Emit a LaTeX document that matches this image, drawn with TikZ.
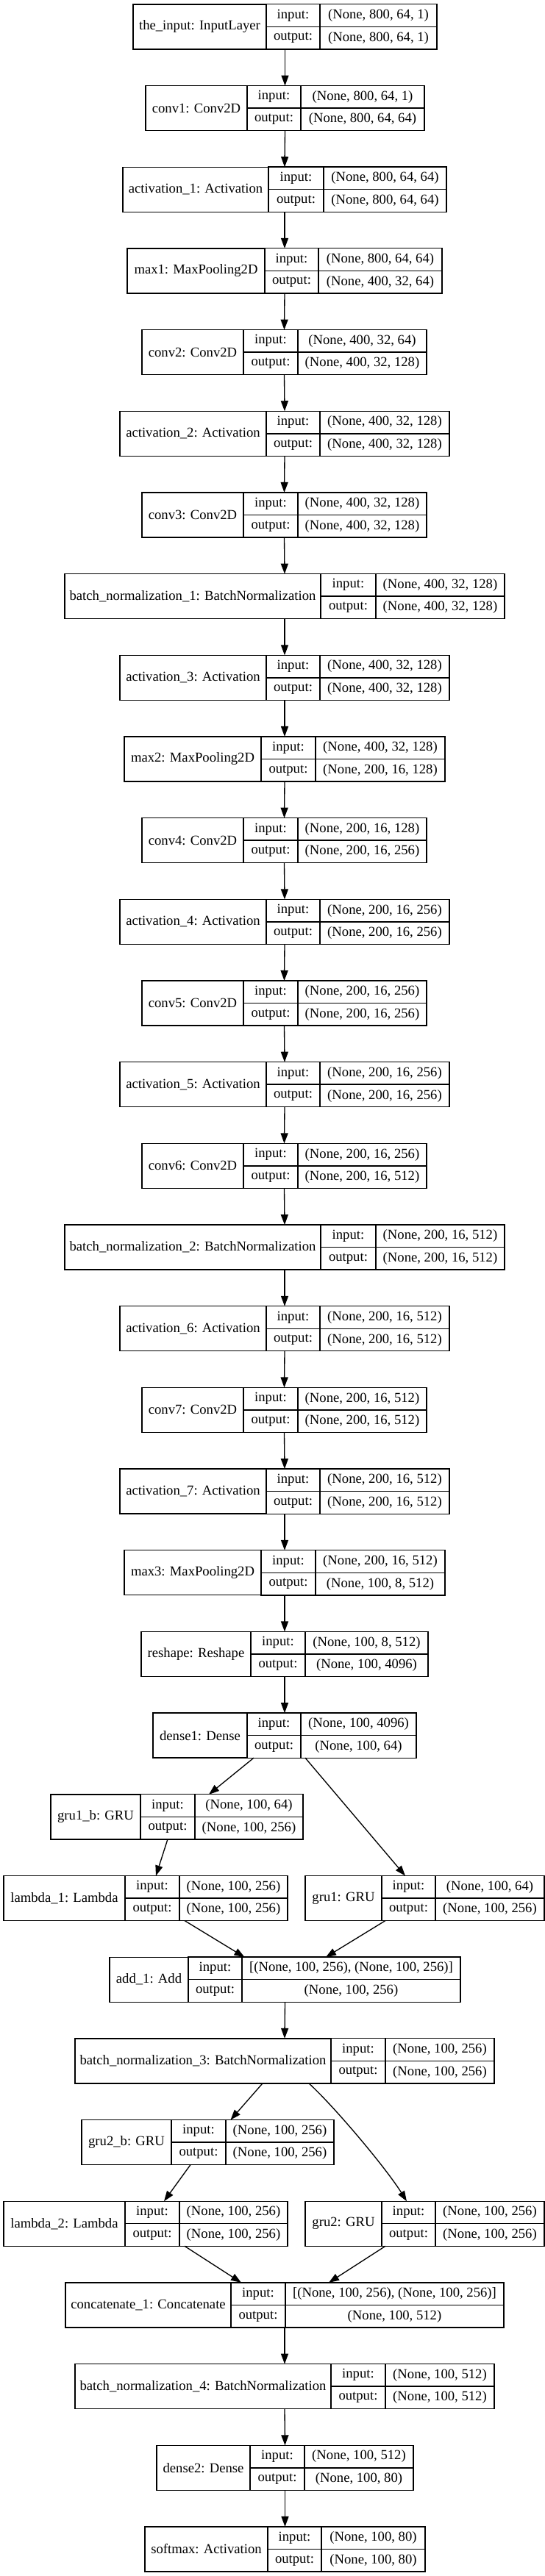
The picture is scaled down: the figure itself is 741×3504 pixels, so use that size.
\documentclass[tikz,border=0pt]{standalone}
\usepackage{fontspec}
\setmainfont{Liberation Serif}
\usetikzlibrary{arrows.meta,calc}

% one layer record: id, row, left, split1, split2, right, name, input, output
\newcommand{\layer}[9]{%
  \node[area, minimum width={0.75pt*(#6-#3)}] (#1) at ({(#3+#6)/2},{5.7+110.68*#2+30.65}) {};
  \node[cellbox, minimum width={0.75pt*(#4-#3)}, minimum height=45.75pt] (#1l) at ({(#3+#4)/2},{5.7+110.68*#2+30.65}) {#7};
  \node[cellbox, minimum width={0.75pt*(#5-#4)}] (#1i) at ({(#4+#5)/2},{5.7+110.68*#2+15.33}) {input:};
  \node[cellbox, minimum width={0.75pt*(#5-#4)}] (#1o) at ({(#4+#5)/2},{5.7+110.68*#2+45.98}) {output:};
  \node[cellbox, minimum width={0.75pt*(#6-#5)}] (#1si) at ({(#5+#6)/2},{5.7+110.68*#2+15.33}) {#8};
  \node[cellbox, minimum width={0.75pt*(#6-#5)}] (#1so) at ({(#5+#6)/2},{5.7+110.68*#2+45.98}) {#9};
}

\begin{document}
\begin{tikzpicture}[x=0.75pt,y=-0.75pt,
  cellbox/.style={draw, line width=1pt, inner sep=0pt, minimum height=22.875pt, font=\fontsize{14pt}{16pt}\selectfont},
  area/.style={inner sep=0pt, outer sep=0pt, minimum height=45.75pt},
  edge/.style={line width=1pt, -{Triangle[length=10.5pt,width=7.5pt]}}]
	\fill[white] (0,0) rectangle (741,3504);
	\useasboundingbox (0,0) rectangle (741,3504);
	\layer{input}{0}{181}{362}{435}{594}{the\_input: InputLayer}{(None, 800, 64, 1)}{(None, 800, 64, 1)}
	\layer{conv1}{1}{198}{336}{409}{577}{conv1: Conv2D}{(None, 800, 64, 1)}{(None, 800, 64, 64)}
	\layer{act1}{2}{167}{365}{440}{607}{activation\_1: Activation}{(None, 800, 64, 64)}{(None, 800, 64, 64)}
	\layer{max1}{3}{173}{360}{433}{601}{max1: MaxPooling2D}{(None, 800, 64, 64)}{(None, 400, 32, 64)}
	\layer{conv2}{4}{193}{331}{405}{580}{conv2: Conv2D}{(None, 400, 32, 64)}{(None, 400, 32, 128)}
	\layer{act2}{5}{163}{362}{435}{611}{activation\_2: Activation}{(None, 400, 32, 128)}{(None, 400, 32, 128)}
	\layer{conv3}{6}{193}{331}{405}{580}{conv3: Conv2D}{(None, 400, 32, 128)}{(None, 400, 32, 128)}
	\layer{bn1}{7}{88}{436}{511}{686}{batch\_normalization\_1: BatchNormalization}{(None, 400, 32, 128)}{(None, 400, 32, 128)}
	\layer{act3}{8}{163}{362}{435}{611}{activation\_3: Activation}{(None, 400, 32, 128)}{(None, 400, 32, 128)}
	\layer{max2}{9}{169}{355}{429}{605}{max2: MaxPooling2D}{(None, 400, 32, 128)}{(None, 200, 16, 128)}
	\layer{conv4}{10}{193}{331}{405}{580}{conv4: Conv2D}{(None, 200, 16, 128)}{(None, 200, 16, 256)}
	\layer{act4}{11}{163}{362}{435}{611}{activation\_4: Activation}{(None, 200, 16, 256)}{(None, 200, 16, 256)}
	\layer{conv5}{12}{193}{331}{405}{580}{conv5: Conv2D}{(None, 200, 16, 256)}{(None, 200, 16, 256)}
	\layer{act5}{13}{163}{362}{435}{611}{activation\_5: Activation}{(None, 200, 16, 256)}{(None, 200, 16, 256)}
	\layer{conv6}{14}{193}{331}{405}{580}{conv6: Conv2D}{(None, 200, 16, 256)}{(None, 200, 16, 512)}
	\layer{bn2}{15}{88}{436}{511}{686}{batch\_normalization\_2: BatchNormalization}{(None, 200, 16, 512)}{(None, 200, 16, 512)}
	\layer{act6}{16}{163}{362}{435}{611}{activation\_6: Activation}{(None, 200, 16, 512)}{(None, 200, 16, 512)}
	\layer{conv7}{17}{193}{331}{405}{580}{conv7: Conv2D}{(None, 200, 16, 512)}{(None, 200, 16, 512)}
	\layer{act7}{18}{163}{362}{435}{611}{activation\_7: Activation}{(None, 200, 16, 512)}{(None, 200, 16, 512)}
	\layer{max3}{19}{169}{355}{429}{605}{max3: MaxPooling2D}{(None, 200, 16, 512)}{(None, 100, 8, 512)}
	\layer{reshape}{20}{192}{341}{415}{582}{reshape: Reshape}{(None, 100, 8, 512)}{(None, 100, 4096)}
	\layer{dense1}{21}{208}{336}{409}{566}{dense1: Dense}{(None, 100, 4096)}{(None, 100, 64)}
	\layer{gru1b}{22}{69}{191}{265}{412}{gru1\_b: GRU}{(None, 100, 64)}{(None, 100, 256)}
	\layer{lambda1}{23}{5}{170}{244}{391}{lambda\_1: Lambda}{(None, 100, 256)}{(None, 100, 256)}
	\layer{gru1}{23}{415}{519}{592}{740}{gru1: GRU}{(None, 100, 64)}{(None, 100, 256)}
	\layer{add1}{24}{149}{256}{329}{626}{add\_1: Add}{[(None, 100, 256), (None, 100, 256)]}{(None, 100, 256)}
	\layer{bn3}{25}{102}{450}{524}{672}{batch\_normalization\_3: BatchNormalization}{(None, 100, 256)}{(None, 100, 256)}
	\layer{gru2b}{26}{111}{233}{307}{454}{gru2\_b: GRU}{(None, 100, 256)}{(None, 100, 256)}
	\layer{lambda2}{27}{5}{170}{244}{391}{lambda\_2: Lambda}{(None, 100, 256)}{(None, 100, 256)}
	\layer{gru2}{27}{415}{519}{592}{740}{gru2: GRU}{(None, 100, 256)}{(None, 100, 256)}
	\layer{concat1}{28}{89}{314}{388}{685}{concatenate\_1: Concatenate}{[(None, 100, 256), (None, 100, 256)]}{(None, 100, 512)}
	\layer{bn4}{29}{102}{450}{524}{672}{batch\_normalization\_4: BatchNormalization}{(None, 100, 512)}{(None, 100, 512)}
	\layer{dense2}{30}{213}{340}{414}{562}{dense2: Dense}{(None, 100, 512)}{(None, 100, 80)}
	\layer{softmax}{31}{197}{364}{437}{578}{softmax: Activation}{(None, 100, 80)}{(None, 100, 80)}
	\draw[edge] (input.south)--(conv1.north);
	\draw[edge] (conv1.south)--(act1.north);
	\draw[edge] (act1.south)--(max1.north);
	\draw[edge] (max1.south)--(conv2.north);
	\draw[edge] (conv2.south)--(act2.north);
	\draw[edge] (act2.south)--(conv3.north);
	\draw[edge] (conv3.south)--(bn1.north);
	\draw[edge] (bn1.south)--(act3.north);
	\draw[edge] (act3.south)--(max2.north);
	\draw[edge] (max2.south)--(conv4.north);
	\draw[edge] (conv4.south)--(act4.north);
	\draw[edge] (act4.south)--(conv5.north);
	\draw[edge] (conv5.south)--(act5.north);
	\draw[edge] (act5.south)--(conv6.north);
	\draw[edge] (conv6.south)--(bn2.north);
	\draw[edge] (bn2.south)--(act6.north);
	\draw[edge] (act6.south)--(conv7.north);
	\draw[edge] (conv7.south)--(act7.north);
	\draw[edge] (act7.south)--(max3.north);
	\draw[edge] (max3.south)--(reshape.north);
	\draw[edge] (reshape.south)--(dense1.north);
	\draw[edge] ([xshift=-31.5pt]dense1.south)--([xshift=32.6pt]gru1b.north);
	\draw[edge] ([xshift=21pt]dense1.south)--([xshift=-19.9pt]gru1.north);
	\draw[edge] ([xshift=-9.4pt]gru1b.south)--([xshift=10.5pt]lambda1.north);
	\draw[edge] ([xshift=39.75pt]lambda1.south)--([xshift=-41.25pt]add1.north);
	\draw[edge] ([xshift=-40.1pt]gru1.south)--([xshift=41.6pt]add1.north);
	\draw[edge] (add1.south)--(bn3.north);
	\draw[edge] ([xshift=-22.5pt]bn3.south)--([xshift=23.25pt]gru2b.north);
	\draw[edge] ([xshift=24.75pt]bn3.south) .. controls +(35,32) and +(-28,-45) .. ([xshift=-18.4pt]gru2.north);
	\draw[edge] ([xshift=-17.6pt]gru2b.south)--([xshift=18.75pt]lambda2.north);
	\draw[edge] ([xshift=39.75pt]lambda2.south)--([xshift=-44.25pt]concat1.north);
	\draw[edge] ([xshift=-40.1pt]gru2.south)--([xshift=45pt]concat1.north);
	\draw[edge] (concat1.south)--(bn4.north);
	\draw[edge] (bn4.south)--(dense2.north);
	\draw[edge] (dense2.south)--(softmax.north);
\end{tikzpicture}
\end{document}
